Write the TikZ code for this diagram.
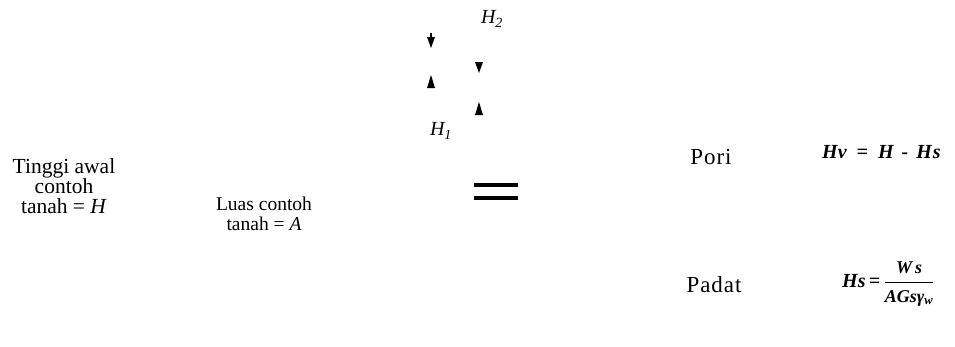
\documentclass[tikz,border=0pt]{standalone}
\usepackage{amsmath}
\usepackage{fontspec}
\setmainfont{Liberation Serif}
\usetikzlibrary{calc}
\begin{document}
\begin{tikzpicture}[x=1pt,y=-1pt,
  lbl/.style={inner sep=0pt,font=\fontsize{21.5}{20}\selectfont,align=center},
  lbls/.style={lbl,font=\fontsize{19.5}{20}\selectfont},
  rlbl/.style={inner sep=0pt,font=\fontsize{23}{20}\selectfont\addfontfeature{LetterSpace=4}},
  itl/.style={inner sep=0pt,font=\fontsize{20}{20}\selectfont\itshape\addfontfeature{LetterSpace=18}},
  eq/.style={inner sep=0pt,font=\fontsize{20}{20}\selectfont\bfseries\itshape},
  tipdown/.style={fill=black},
  bar/.style={line width=3.4pt}]
\useasboundingbox (0,0) rectangle (955,346);
% left labels
\node[lbl] (tinggi) at (64,186) {Tinggi awal\\contoh\\tanah = \textit{H}};
\node[lbls] (luas) at (264,214) {Luas contoh\\tanah = \textit{A}};
% H labels
\node[itl] (h2) at (492,19) {H\textsubscript{2}};
\node[itl] (h1) at (441,131) {H\textsubscript{1}};
% arrowheads
\coordinate (a1) at (431,48);
\coordinate (a2) at (431,75);
\coordinate (b1) at (479,73);
\coordinate (b2) at (479,102);
\fill[tipdown] (a1) -- ++(-4,-11) -- ++(8,0) -- cycle;
\fill[tipdown] ($(a1)+(-1,-11)$) rectangle ++(2,-4);
\fill[tipdown] (a2) -- ++(-4,13) -- ++(8,0) -- cycle;
\fill[tipdown] (b1) -- ++(-4,-11) -- ++(8,0) -- cycle;
\fill[tipdown] (b2) -- ++(-4,13) -- ++(8,0) -- cycle;
% equals bars
\coordinate (e1) at (474,185);
\coordinate (e2) at (518,185);
\coordinate (e3) at (474,198);
\coordinate (e4) at (518,198);
\draw[bar] (e1) -- (e2);
\draw[bar] (e3) -- (e4);
% right labels
\node[rlbl] (pori) at (711,157) {Pori};
\node[rlbl] (padat) at (714,285) {Padat};
\node[eq,anchor=west] (hv) at (822,152) {Hv\hspace{10pt}=\hspace{10pt}H\hspace{8pt}-\hspace{8pt}H\hspace{1pt}s};
\node[eq,anchor=west] (hs) at (842,284) {Hs\,=\,$\dfrac{\text{\fontsize{18}{18}\selectfont\bfseries\itshape W\,s}}{\text{\fontsize{18}{18}\selectfont\bfseries\itshape AGsγ\textsubscript{w}}}$};
\end{tikzpicture}
\end{document}
